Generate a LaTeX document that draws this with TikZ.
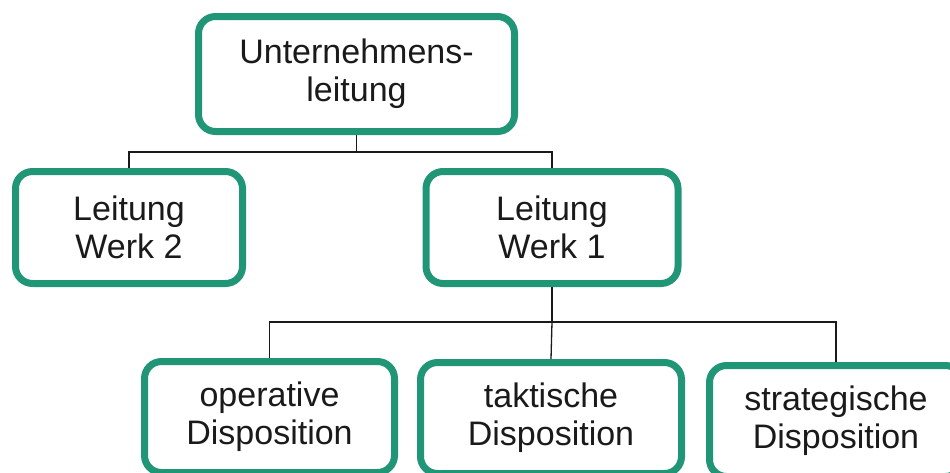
\documentclass[tikz,border=0pt]{standalone}
\usepackage{fontspec}
\setmainfont{Liberation Sans}
\definecolor{boxteal}{RGB}{32,150,119}
\definecolor{inkgray}{RGB}{26,26,26}
\begin{document}
\begin{tikzpicture}[x=1pt,y=-1pt,
  orgbox/.style={draw=boxteal, line width=7pt, rounded corners=17pt, fill=white,
    align=center, text=inkgray, inner sep=0pt,
    font=\fontsize{34}{38}\selectfont},
  conn/.style={draw=inkgray, line width=1.3pt}]
  \useasboundingbox (0,0) rectangle (950,472);
  \clip (0,0) rectangle (950,472);
  \fill[white] (0,0) rectangle (950,472);

  % level 0
  \node[orgbox, minimum width=316pt, minimum height=115pt] (top) at (356.5,74)
    {Unternehmens-\\leitung};
  % level 1
  \node[orgbox, minimum width=227pt, minimum height=112pt] (w2) at (129,227.5)
    {Leitung\\Werk 2};
  \node[orgbox, minimum width=252pt, minimum height=112pt] (w1) at (552,227.5)
    {Leitung\\Werk 1};
  % level 2
  \node[orgbox, minimum width=250pt, minimum height=111pt] (op) at (269.5,417)
    {operative\\Disposition};
  \node[orgbox, minimum width=261pt, minimum height=111pt] (ta) at (551,418)
    {taktische\\Disposition};
  \node[orgbox, minimum width=253pt, minimum height=111pt] (st) at (836,421)
    {strategische\\Disposition};

  % connectors
  \coordinate (busA) at (0,152);
  \coordinate (busB) at (0,322);
  \draw[conn] (top.south) -- (top.south |- busA) -| (w2.north);
  \draw[conn] (top.south |- busA) -| (w1.north);
  \draw[conn] (w1.south) -- (w1.south |- busB) -| (op.north);
  \draw[conn] (w1.south |- busB) -- (ta.north);
  \draw[conn] (w1.south |- busB) -| (st.north);
\end{tikzpicture}
\end{document}
